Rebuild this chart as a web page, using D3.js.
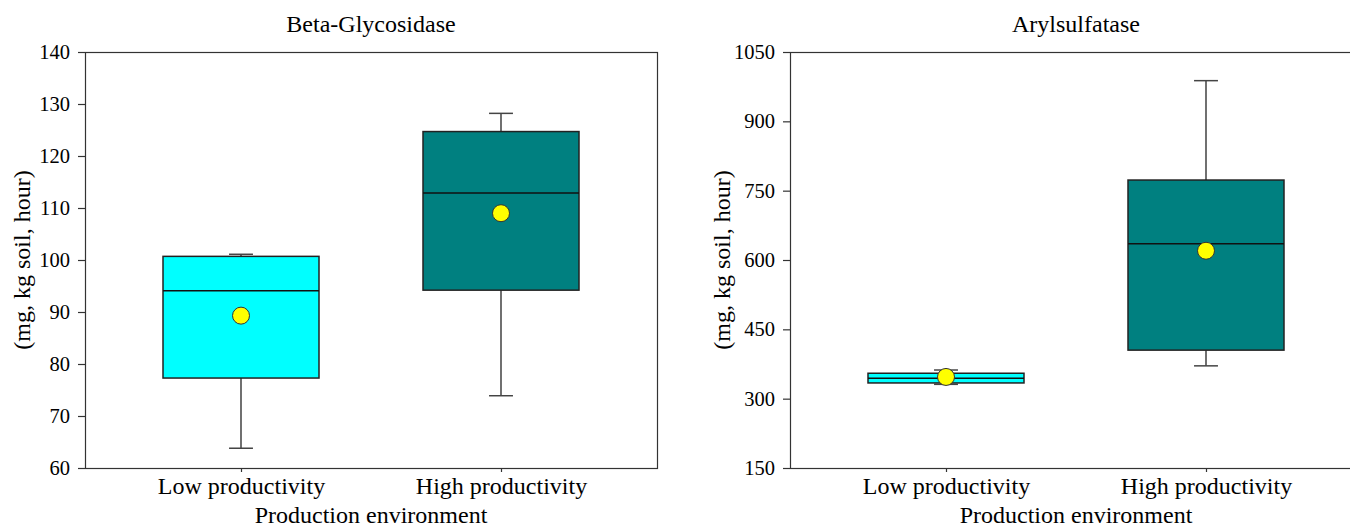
<!DOCTYPE html>
<html>
<head>
<meta charset="utf-8">
<script src="https://cdn.jsdelivr.net/npm/d3@7"></script>
<style>
  html, body { margin: 0; padding: 0; background: #fff; }
  svg { display: block; }
  text { font-family: "Liberation Serif", "Times New Roman", serif; fill: #000; }
</style>
</head>
<body>
<svg id="chart" width="1350" height="529"></svg>
<script>
// ---- data ----
const categories = ["Low productivity", "High productivity"];
const boxColors = ["#00FFFF", "#008080"];

const betaTitle = "Beta-Glycosidase";
const betaTicks = [60, 70, 80, 90, 100, 110, 120, 130, 140];
const betaWhiskerLow  = [63.8, 73.9];
const betaQ1          = [77.3, 94.2];
const betaMedian      = [94.1, 112.9];
const betaQ3          = [100.7, 124.7];
const betaWhiskerHigh = [101.1, 128.2];
const betaMean        = [89.3, 109.0];

const arylTitle = "Arylsulfatase";
const arylTicks = [150, 300, 450, 600, 750, 900, 1050];
const arylWhiskerLow  = [331, 371];
const arylQ1          = [334, 405];
const arylMedian      = [344, 635];
const arylQ3          = [355, 773];
const arylWhiskerHigh = [362, 988];
const arylMean        = [347, 620];

const yLabel = "(mg, kg soil, hour)";
const xLabel = "Production environment";

// ---- drawing ----
const svg = d3.select("#chart");
const SERIF = '"Liberation Serif", "Times New Roman", serif';

function panel(opts) {
  const left = opts.left, top = 52, w = 572, h = 416;
  const g = svg.append("g").attr("transform", `translate(${left},${top})`);

  const x = d3.scaleLinear().domain([0.4, 2.6]).range([0, w]);
  const y = d3.scaleLinear().domain([opts.ticks[0], opts.ticks[opts.ticks.length - 1]]).range([h, 0]);
  const boxHalf = 0.3;
  const capHalf = 0.046;

  const data = categories.map((c, i) => ({
    c, i, pos: i + 1,
    lo: opts.wl[i], q1: opts.q1[i], med: opts.med[i], q3: opts.q3[i], hi: opts.wh[i], mean: opts.mean[i]
  }));

  // frame
  g.append("rect").attr("x", 0.5).attr("y", 0.5).attr("width", w).attr("height", h)
    .attr("fill", "none").attr("stroke", "#333").attr("stroke-width", 1.2);

  const b = g.selectAll("g.box").data(data).join("g").attr("class", "box");
  // whiskers
  b.append("line").attr("x1", d => x(d.pos)).attr("x2", d => x(d.pos))
    .attr("y1", d => y(d.q3)).attr("y2", d => y(d.hi)).attr("stroke", "#111").attr("stroke-width", 1.2);
  b.append("line").attr("x1", d => x(d.pos)).attr("x2", d => x(d.pos))
    .attr("y1", d => y(d.q1)).attr("y2", d => y(d.lo)).attr("stroke", "#111").attr("stroke-width", 1.2);
  b.append("line").attr("x1", d => x(d.pos - capHalf)).attr("x2", d => x(d.pos + capHalf))
    .attr("y1", d => y(d.hi)).attr("y2", d => y(d.hi)).attr("stroke", "#444").attr("stroke-width", 1.5);
  b.append("line").attr("x1", d => x(d.pos - capHalf)).attr("x2", d => x(d.pos + capHalf))
    .attr("y1", d => y(d.lo)).attr("y2", d => y(d.lo)).attr("stroke", "#444").attr("stroke-width", 1.5);
  // box
  b.append("rect").attr("x", d => x(d.pos - boxHalf)).attr("width", d => x(d.pos + boxHalf) - x(d.pos - boxHalf))
    .attr("y", d => y(d.q3)).attr("height", d => y(d.q1) - y(d.q3))
    .attr("fill", (d, i) => boxColors[i]).attr("stroke", "#222").attr("stroke-width", 1.5);
  // median
  b.append("line").attr("x1", d => x(d.pos - boxHalf)).attr("x2", d => x(d.pos + boxHalf))
    .attr("y1", d => y(d.med)).attr("y2", d => y(d.med)).attr("stroke", "#111").attr("stroke-width", 1.5);
  // mean
  b.append("circle").attr("cx", d => x(d.pos)).attr("cy", d => y(d.mean)).attr("r", 8.5)
    .attr("fill", "#FFFF00").attr("stroke", "#333").attr("stroke-width", 1);

  // y axis
  const ya = g.append("g").call(d3.axisLeft(y).tickValues(opts.ticks).tickSize(7).tickPadding(8).tickFormat(d3.format("d")));
  ya.attr("font-family", SERIF);
  ya.select(".domain").remove();
  ya.selectAll(".tick line").attr("stroke", "#333").attr("stroke-width", 1.2);
  ya.selectAll(".tick text").style("font-size", "20.5px").style("font-family", SERIF);

  // x axis
  const xa = g.append("g").attr("transform", `translate(0,${h})`)
    .call(d3.axisBottom(x).tickValues([1, 2]).tickSize(4).tickPadding(5).tickFormat((d) => categories[d - 1]));
  xa.attr("font-family", SERIF);
  xa.select(".domain").remove();
  xa.selectAll(".tick line").attr("stroke", "#333").attr("stroke-width", 1.2);
  xa.selectAll(".tick text").style("font-size", "24px").style("font-family", SERIF);

  // title
  g.append("text").attr("x", w / 2).attr("y", -20).attr("text-anchor", "middle")
    .style("font-size", "24px").text(opts.title);
  // x label
  g.append("text").attr("x", w / 2).attr("y", h + 55).attr("text-anchor", "middle")
    .style("font-size", "24px").text(xLabel);
  // y label
  g.append("text").attr("transform", `translate(${opts.yLabelX - left},${h / 2}) rotate(-90)`)
    .attr("text-anchor", "middle").style("font-size", "24px").text(yLabel);
}

panel({ left: 85, title: betaTitle, ticks: betaTicks, wl: betaWhiskerLow, q1: betaQ1, med: betaMedian,
        q3: betaQ3, wh: betaWhiskerHigh, mean: betaMean, yLabelX: 30 });
panel({ left: 790, title: arylTitle, ticks: arylTicks, wl: arylWhiskerLow, q1: arylQ1, med: arylMedian,
        q3: arylQ3, wh: arylWhiskerHigh, mean: arylMean, yLabelX: 730 });
</script>
</body>
</html>
